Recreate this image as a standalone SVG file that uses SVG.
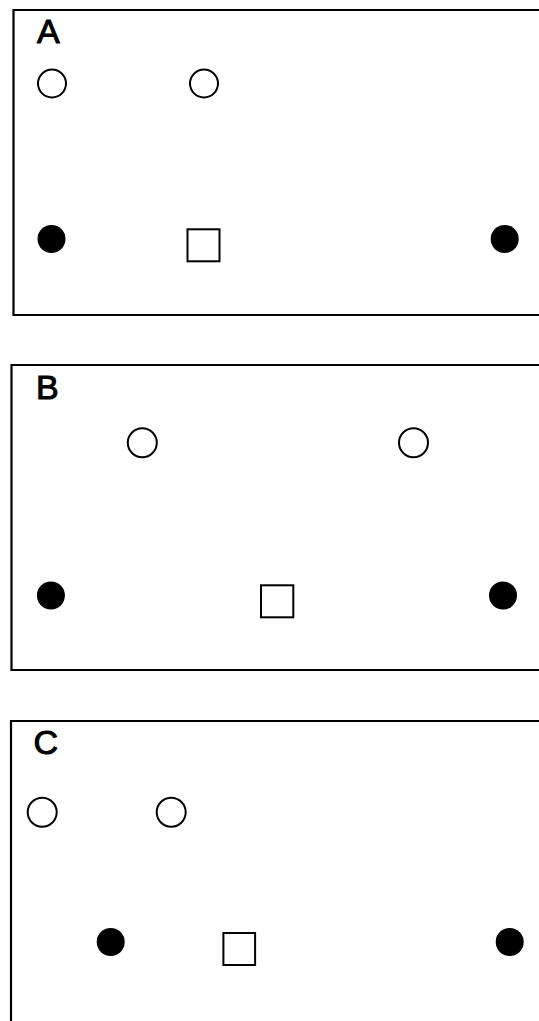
<svg xmlns="http://www.w3.org/2000/svg" width="539" height="1021" viewBox="0 0 539 1021">
<style>
.frame{fill:none;stroke:#000;stroke-width:2.2}
.open{fill:#fff;stroke:#000;stroke-width:2}
.solid{fill:#000}
.sq{fill:#fff;stroke:#000;stroke-width:2}
.lbl{font-family:"Liberation Sans",Arial,sans-serif;font-size:34px;fill:#000;stroke:#000;stroke-width:1}
</style>
<rect width="539" height="1021" fill="#fff"/>
<g id="panelA">
<path class="frame" d="M541,10 H13.5 V315 H541"/>
<text class="lbl" x="37" y="43">A</text>
<circle class="open" cx="52" cy="83.5" r="14"/>
<circle class="open" cx="204" cy="83.5" r="14"/>
<circle class="solid" cx="51.5" cy="239" r="14"/>
<circle class="solid" cx="504.7" cy="239" r="14"/>
<rect class="sq" x="187.5" y="229.3" width="32" height="32"/>
</g>
<g id="panelB">
<path class="frame" d="M541,365 H11.5 V670 H541"/>
<text class="lbl" x="36" y="399">B</text>
<circle class="open" cx="142.3" cy="442.8" r="14.5"/>
<circle class="open" cx="413.5" cy="442.8" r="14.5"/>
<circle class="solid" cx="50.9" cy="595.5" r="14"/>
<circle class="solid" cx="503" cy="595.5" r="14"/>
<rect class="sq" x="261" y="585.3" width="32.3" height="32"/>
</g>
<g id="panelC">
<path class="frame" d="M541,721 H11 V1025"/>
<text class="lbl" x="33.5" y="753.5">C</text>
<circle class="open" cx="42.2" cy="812.3" r="14.5"/>
<circle class="open" cx="171.2" cy="812.3" r="14.5"/>
<circle class="solid" cx="110.7" cy="942" r="14"/>
<circle class="solid" cx="509.7" cy="942" r="14"/>
<rect class="sq" x="223.4" y="933" width="31.7" height="32"/>
</g>
</svg>
